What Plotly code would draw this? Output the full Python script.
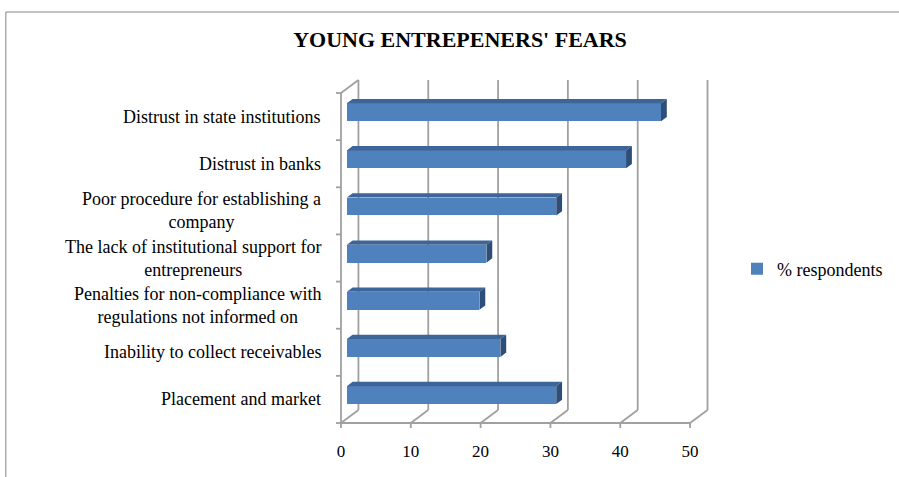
import plotly.graph_objects as go

# ---- data ----
categories = [
    "Placement and market",
    "Inability to collect receivables",
    "Penalties for non-compliance with<br>regulations not informed on",
    "The lack of institutional support for<br>entrepreneurs",
    "Poor procedure for establishing a<br>company",
    "Distrust in banks",
    "Distrust in state institutions",
]
values = [30, 22, 19, 20, 30, 40, 45]
x_ticks = [0, 10, 20, 30, 40, 50]
series_name = "% respondents"
title_text = "YOUNG ENTREPENERS' FEARS"

# ---- geometry (pixel helpers) ----
W, H = 899, 477
PXU_X = 7.0          # px per x unit
PXU_Y = 47.14        # px per category
X0PX, Y0PX = 341, 423
L, PW = 333, 384
T, B_PX = 74, 430
PH = B_PX - T
xmin = (L - X0PX) / PXU_X
xmax = xmin + PW / PXU_X
ymin = -(B_PX - Y0PX) / PXU_Y
ymax = (Y0PX - T) / PXU_Y

DX = 17.5 / PXU_X    # depth offset in x units
DY = 13.0 / PXU_Y    # depth offset in y units
OX, OY = DX / 3, DY / 3
BH = 0.38
NCAT = len(categories)
XMAX_VAL = x_ticks[-1]

FONT = "Liberation Serif"
GRID = "#a0a0a0"
GW = 1.8

fig = go.Figure()
centers = [k + 0.5 for k in range(NCAT)]
fig.add_trace(go.Bar(
    y=[c + OY for c in centers], x=values, base=[OX] * NCAT,
    orientation="h", width=BH, name=series_name, showlegend=True,
    marker=dict(color="#4F81BD", line=dict(width=0)),
))

shapes = []
# back wall gridlines and floor diagonals
for v in x_ticks:
    shapes.append(dict(type="line", xref="x", yref="y", x0=v + DX, x1=v + DX, y0=DY, y1=NCAT + DY,
                       line=dict(color=GRID, width=GW), layer="below"))
    shapes.append(dict(type="line", xref="x", yref="y", x0=v, x1=v + DX, y0=0, y1=DY,
                       line=dict(color=GRID, width=GW), layer="below"))
    shapes.append(dict(type="line", xref="x", yref="y", x0=v, x1=v, y0=0, y1=-5 / PXU_Y,
                       line=dict(color=GRID, width=GW), layer="below"))
# front axes
shapes.append(dict(type="line", xref="x", yref="y", x0=0, x1=XMAX_VAL, y0=0, y1=0,
                   line=dict(color=GRID, width=GW), layer="below"))
shapes.append(dict(type="line", xref="x", yref="y", x0=0, x1=0, y0=0, y1=NCAT,
                   line=dict(color=GRID, width=GW), layer="below"))
shapes.append(dict(type="line", xref="x", yref="y", x0=0, x1=DX, y0=NCAT, y1=NCAT + DY,
                   line=dict(color=GRID, width=GW), layer="below"))
for k in range(NCAT + 1):
    shapes.append(dict(type="line", xref="x", yref="y", x0=-5 / PXU_X, x1=0, y0=k, y1=k,
                       line=dict(color=GRID, width=GW), layer="below"))

# 3D faces of bars
for c, v in zip(centers, values):
    yb, yt = c + OY - BH / 2, c + OY + BH / 2
    xl, xr = OX, OX + v
    top = f"M{xl},{yt} L{xr},{yt} L{xr + OX},{yt + OY} L{xl + OX},{yt + OY} Z"
    side = f"M{xr},{yb} L{xr},{yt} L{xr + OX},{yt + OY} L{xr + OX},{yb + OY} Z"
    shapes.append(dict(type="path", xref="x", yref="y", path=top,
                       fillcolor="#3D6597", line=dict(width=0), layer="above"))
    shapes.append(dict(type="path", xref="x", yref="y", path=side,
                       fillcolor="#2D4E79", line=dict(width=0), layer="above"))

# outer chart border
shapes.append(dict(type="rect", xref="paper", yref="paper",
                   x0=(5 - L) / PW, x1=(W + 20 - L) / PW,
                   y0=(B_PX - 12) / PH, y1=(B_PX - H - 20) / PH,
                   line=dict(color="#868686", width=1), fillcolor="rgba(0,0,0,0)", layer="below"))

annotations = []
for c, lab in zip(centers, categories):
    annotations.append(dict(xref="paper", yref="paper", x=(323 - L) / PW,
                            y=(B_PX - (Y0PX - c * PXU_Y)) / PH, text=lab,
                            xanchor="right", yanchor="middle", align="center", showarrow=False,
                            font=dict(family=FONT, size=18, color="black")))

fig.update_layout(
    width=W, height=H,
    margin=dict(l=L, r=W - L - PW, t=T, b=H - B_PX),
    paper_bgcolor="white", plot_bgcolor="white",
    title=dict(text=f"<b>{title_text}</b>", x=460 / W, xanchor="center", xref="container",
               y=1 - 39 / H, yanchor="middle", yref="container",
               font=dict(family=FONT, size=22, color="black")),
    xaxis=dict(range=[xmin, xmax], showgrid=False, zeroline=False, showline=False,
               tickvals=x_ticks, ticktext=[str(t) for t in x_ticks], ticks="",
               ticklabelstandoff=9,
               tickfont=dict(family=FONT, size=17, color="black"), fixedrange=True),
    yaxis=dict(range=[ymin, ymax], showgrid=False, zeroline=False, showline=False,
               showticklabels=False, ticks="", fixedrange=True),
    legend=dict(x=(737 - L) / PW, y=(B_PX - 269) / PH, xanchor="left", yanchor="middle",
                font=dict(family=FONT, size=18, color="black"), bgcolor="rgba(0,0,0,0)"),
    shapes=shapes, annotations=annotations, bargap=0,
)

fig.write_html("out.html")
